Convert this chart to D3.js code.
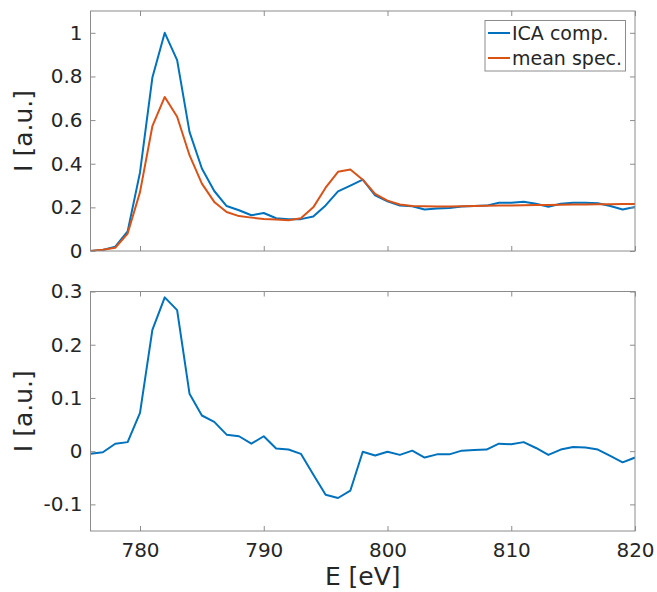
<!DOCTYPE html>
<html>
<head>
<meta charset="utf-8">
<script src="https://cdn.jsdelivr.net/npm/d3@7"></script>
<style>
  body { margin: 0; background: #fff; }
  text { font-family: "DejaVu Sans", sans-serif; fill: #262626; }
</style>
</head>
<body>
<div id="my_dataviz"></div>
<script>
// photon energy (eV)
var energy = [776, 777, 778, 779, 780, 781, 782, 783, 784, 785, 786, 787, 788, 789, 790,
    791, 792, 793, 794, 795, 796, 797, 798, 799, 800, 801, 802, 803, 804, 805,
    806, 807, 808, 809, 810, 811, 812, 813, 814, 815, 816, 817, 818, 819, 820];

var icaComp = [0, 0.005, 0.02, 0.09, 0.36, 0.795, 1.0, 0.875, 0.546, 0.378, 0.275, 0.206, 0.187, 0.164, 0.174,
    0.15, 0.146, 0.146, 0.158, 0.209, 0.273, 0.30, 0.327, 0.255, 0.228, 0.208, 0.205, 0.19, 0.195, 0.197,
    0.204, 0.206, 0.208, 0.221, 0.221, 0.226, 0.217, 0.203, 0.217, 0.221, 0.221, 0.219, 0.206, 0.19, 0.202];

var meanSpec = [0, 0.006, 0.015, 0.08, 0.27, 0.572, 0.706, 0.615, 0.439, 0.309, 0.225, 0.179, 0.16, 0.153, 0.147,
    0.144, 0.141, 0.15, 0.2, 0.29, 0.363, 0.374, 0.327, 0.262, 0.231, 0.213, 0.206, 0.205, 0.204, 0.204,
    0.205, 0.206, 0.207, 0.208, 0.209, 0.21, 0.211, 0.211, 0.212, 0.213, 0.213, 0.214, 0.214, 0.215, 0.215];

var diffSpec = [-0.005, -0.002, 0.014, 0.017, 0.072, 0.228, 0.289, 0.265, 0.108, 0.067, 0.055, 0.031, 0.028, 0.014, 0.028,
    0.005, 0.003, -0.005, -0.044, -0.082, -0.088, -0.074, -0.001, -0.008, -0.001, -0.007, 0.001, -0.012, -0.006, -0.006,
    0.001, 0.002, 0.003, 0.014, 0.013, 0.017, 0.006, -0.007, 0.003, 0.008, 0.007, 0.003, -0.009, -0.021, -0.012];

var xTicks = [780, 790, 800, 810, 820];
var yTicksTop = [0, 0.2, 0.4, 0.6, 0.8, 1];
var yTicksBottom = [-0.1, 0, 0.1, 0.2, 0.3];
var seriesNames = ["ICA comp.", "mean spec."];
var colors = ["#0072BD", "#D95319"];

var W = 657, H = 592;
var left = 90.5, right = 635;
var axisColor = "#8c8c8c";

var svg = d3.select("#my_dataviz")
    .append("svg")
    .attr("width", W)
    .attr("height", H);

var x = d3.scaleLinear()
    .domain([776, 820])
    .range([left, right]);

// plain hyphen for negatives, like the original
var fmt = function(d) { return String(+d.toFixed(2)); };

function drawPanel(top, bottom, yDomain, yTicks, series, id, showX) {
    var y = d3.scaleLinear()
        .domain(yDomain)
        .range([bottom, top]);

    var g = svg.append("g");

    // clip for the lines
    svg.append("clipPath")
        .attr("id", id)
        .append("rect")
        .attr("x", left)
        .attr("y", top)
        .attr("width", right - left)
        .attr("height", bottom - top);

    series.forEach(function(s) {
        g.append("path")
            .datum(s.values)
            .attr("clip-path", "url(#" + id + ")")
            .attr("fill", "none")
            .attr("stroke", s.color)
            .attr("stroke-width", 2)
            .attr("stroke-linejoin", "round")
            .attr("d", d3.line()
                .x(function(d, i) { return x(energy[i]); })
                .y(function(d) { return y(d); }));
    });

    // left axis
    var ya = g.append("g")
        .attr("transform", "translate(" + left + ",0)")
        .call(d3.axisLeft(y).tickValues(yTicks).tickSizeInner(-5).tickSizeOuter(0).tickPadding(8).tickFormat(fmt));
    ya.selectAll("text").style("font-size", "20px").style("fill", "#262626");

    // right axis
    g.append("g")
        .attr("transform", "translate(" + right + ",0)")
        .call(d3.axisRight(y).tickValues(yTicks).tickSizeInner(-5).tickSizeOuter(0).tickFormat(""));

    // bottom axis
    var xa = g.append("g")
        .attr("transform", "translate(0," + bottom + ")")
        .call(d3.axisBottom(x).tickValues(xTicks).tickSizeInner(-5).tickSizeOuter(0).tickPadding(12)
            .tickFormat(showX ? d3.format("d") : ""));
    xa.selectAll("text").style("font-size", "20px").style("fill", "#262626");

    // top axis
    g.append("g")
        .attr("transform", "translate(0," + top + ")")
        .call(d3.axisTop(x).tickValues(xTicks).tickSizeInner(-5).tickSizeOuter(0).tickFormat(""));

    g.selectAll(".domain").remove();
    g.selectAll(".tick line").attr("stroke", axisColor);

    g.append("rect")
        .attr("x", left)
        .attr("y", top)
        .attr("width", right - left)
        .attr("height", bottom - top)
        .attr("fill", "none")
        .attr("stroke", axisColor)
        .attr("stroke-width", 1);

    // y label
    svg.append("text")
        .attr("transform", "rotate(-90)")
        .attr("x", -(top + bottom) / 2)
        .attr("y", 32)
        .attr("text-anchor", "middle")
        .style("font-size", "25px")
        .text("I [a.u.]");

    return y;
}

drawPanel(11, 251, [0, 1.1], yTicksTop, [
    {values: icaComp, color: colors[0]},
    {values: meanSpec, color: colors[1]}
], "clipTop", false);

drawPanel(291.5, 531, [-0.15, 0.3], yTicksBottom, [
    {values: diffSpec, color: colors[0]}
], "clipBottom", true);

// x label
svg.append("text")
    .attr("x", (left + right) / 2)
    .attr("y", 585)
    .attr("text-anchor", "middle")
    .style("font-size", "25px")
    .text("E [eV]");

// legend
var legend = svg.append("g");
legend.append("rect")
    .attr("x", 485)
    .attr("y", 20.5)
    .attr("width", 140.5)
    .attr("height", 50.5)
    .attr("fill", "#fff")
    .attr("stroke", axisColor)
    .attr("stroke-width", 1);

seriesNames.forEach(function(name, i) {
    var cy = 33 + i * 25;
    legend.append("line")
        .attr("x1", 488)
        .attr("x2", 510)
        .attr("y1", cy)
        .attr("y2", cy)
        .attr("stroke", colors[i])
        .attr("stroke-width", 2);
    legend.append("text")
        .attr("x", 512)
        .attr("y", cy + 7)
        .style("font-size", "19px")
        .text(name);
});
</script>
</body>
</html>
